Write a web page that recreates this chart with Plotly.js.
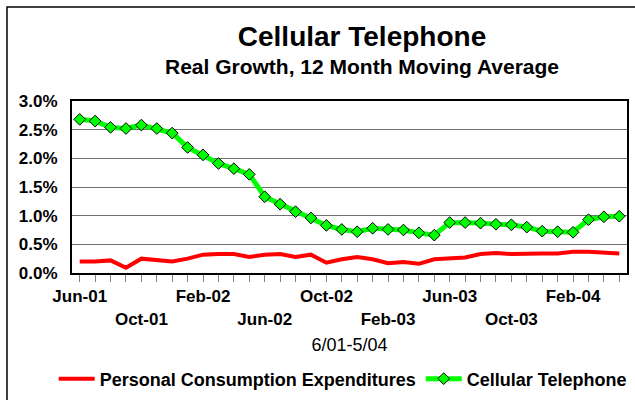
<!DOCTYPE html>
<html>
<head>
<meta charset="utf-8">
<script src="https://cdn.plot.ly/plotly-3.0.1.min.js"></script>
<style>html,body{margin:0;padding:0;background:#fff;}#chart{width:635px;height:400px;}</style>
</head>
<body>
<div id="chart"></div>
<script>
var months = ["Jun-01","Jul-01","Aug-01","Sep-01","Oct-01","Nov-01","Dec-01","Jan-02","Feb-02","Mar-02","Apr-02","May-02",
              "Jun-02","Jul-02","Aug-02","Sep-02","Oct-02","Nov-02","Dec-02","Jan-03","Feb-03","Mar-03","Apr-03","May-03",
              "Jun-03","Jul-03","Aug-03","Sep-03","Oct-03","Nov-03","Dec-03","Jan-04","Feb-04","Mar-04","Apr-04","May-04"];
var pce = [0.20,0.20,0.22,0.09,0.25,0.23,0.20,0.25,0.32,0.33,0.33,0.28,
           0.32,0.33,0.28,0.32,0.18,0.24,0.28,0.24,0.17,0.19,0.16,0.24,
           0.25,0.27,0.33,0.35,0.33,0.34,0.34,0.34,0.37,0.37,0.36,0.34];
var cellular = [2.68,2.65,2.54,2.52,2.58,2.52,2.44,2.19,2.06,1.91,1.82,1.72,
                1.33,1.20,1.07,0.96,0.83,0.76,0.72,0.78,0.76,0.75,0.70,0.66,
                0.88,0.88,0.87,0.85,0.84,0.80,0.73,0.72,0.71,0.93,0.98,0.99];
var tickLabels = ["Jun-01","","","","<br>Oct-01","","","","Feb-02","","","",
                  "<br>Jun-02","","","","Oct-02","","","","<br>Feb-03","","","",
                  "Jun-03","","","","<br>Oct-03","","","","Feb-04","","",""];
var yTicks = [0,0.5,1,1.5,2,2.5,3];
var yTickLabels = ["0.0%","0.5%","1.0%","1.5%","2.0%","2.5%","3.0%"];

var FONT = "Liberation Sans, Arial, sans-serif";

var traces = [
  {x: months, y: pce, type: "scatter", mode: "lines", name: "Personal Consumption Expenditures",
   line: {color: "#ff0000", width: 4}},
  {x: months, y: cellular, type: "scatter", mode: "lines+markers", name: "Cellular Telephone",
   line: {color: "#00ff00", width: 5},
   marker: {symbol: "diamond", size: 9, color: "#00ff00", line: {color: "#000000", width: 1}}}
];

var layout = {
  width: 635, height: 400,
  margin: {l: 72, r: 8, t: 101, b: 127, autoexpand: false},
  paper_bgcolor: "#ffffff", plot_bgcolor: "#ffffff",
  font: {family: FONT, color: "#000000"},
  title: {text: "Cellular Telephone", font: {family: FONT, size: 28, weight: "bold", color: "#000"},
          x: 362/635, xref: "container", xanchor: "center", y: 1 - 46/400, yref: "container", yanchor: "bottom"},
  showlegend: true,
  legend: {orientation: "h", x: -0.033, xanchor: "left", y: -0.616, yanchor: "middle", itemwidth: 36,
           font: {family: FONT, size: 18, weight: "bold", color: "#000"}, bgcolor: "rgba(0,0,0,0)"},
  xaxis: {type: "category", range: [-0.5, 35.5], tickmode: "array", tickvals: months, ticktext: tickLabels,
          ticks: "outside", ticklen: 7, tickwidth: 1, tickcolor: "#808080",
          showline: true, linecolor: "#000", linewidth: 2, mirror: true, showgrid: false, zeroline: false,
          tickangle: 0, tickfont: {family: FONT, size: 17, weight: "bold", color: "#000"},
          title: {text: "6/01-5/04", font: {family: FONT, size: 18, color: "#000"}, standoff: 11}},
  yaxis: {range: [0, 3], tickmode: "array", tickvals: yTicks, ticktext: yTickLabels,
          ticks: "", ticklabelstandoff: 9, showline: true, linecolor: "#000", linewidth: 2, mirror: true,
          showgrid: true, gridcolor: "#707070", gridwidth: 1, zeroline: false,
          tickfont: {family: FONT, size: 17, weight: "bold", color: "#000"}},
  annotations: [
    {text: "Real Growth, 12 Month Moving Average", xref: "paper", yref: "paper",
     x: (362-72)/555, y: (273-66)/172, xanchor: "center", yanchor: "middle", showarrow: false,
     font: {family: FONT, size: 21, weight: "bold", color: "#000"}}
  ],
  shapes: [
    {type: "rect", xref: "paper", yref: "paper", x0: (7-72)/555, x1: (660-72)/555, y0: (273-420)/172, y1: (273-7)/172,
     line: {color: "#000", width: 1.5}, fillcolor: "rgba(0,0,0,0)", layer: "below"}
  ]
};

Plotly.newPlot("chart", traces, layout, {displayModeBar: false, staticPlot: true});
</script>
</body>
</html>
